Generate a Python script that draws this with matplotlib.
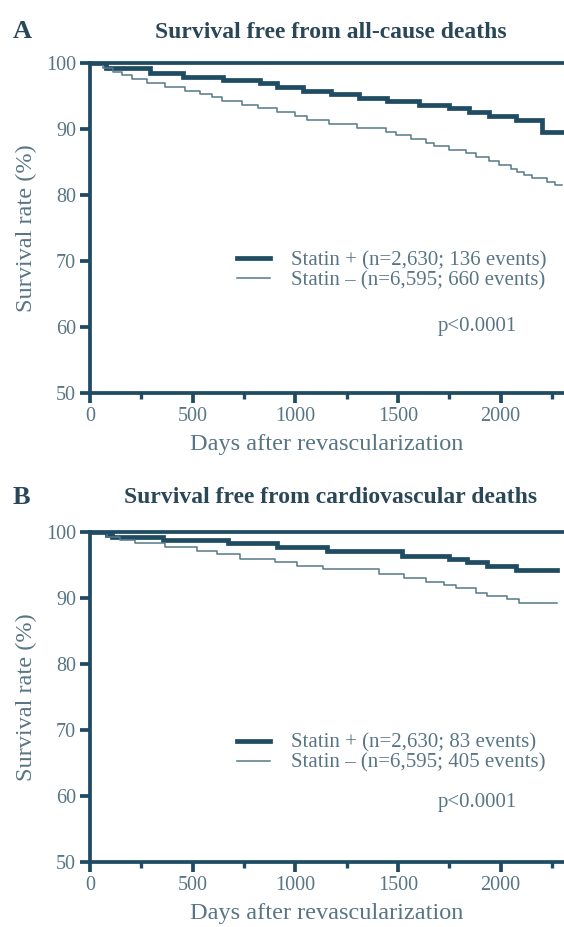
import matplotlib
matplotlib.use("Agg")
import matplotlib.pyplot as plt
from matplotlib.ticker import MultipleLocator
from matplotlib.lines import Line2D

# Panel A: all-cause deaths (Kaplan-Meier steps)
days_a_pos = [0, 80, 292, 453, 648, 828, 911, 1037, 1174, 1310, 1447, 1603, 1749, 1846, 1944, 2075, 2202, 2300]
surv_a_pos = [100, 99.2, 98.5, 97.9, 97.4, 96.9, 96.3, 95.8, 95.3, 94.7, 94.2, 93.6, 93.1, 92.5, 91.9, 91.3, 89.6, 89.6]
days_a_neg = [0, 63, 112, 156, 205, 278, 365, 463, 536, 594, 643, 740, 818, 911, 999, 1057, 1164, 1300, 1442, 1490,
              1564, 1637, 1676, 1749, 1831, 1880, 1944, 1992, 2051, 2080, 2114, 2153, 2226, 2265, 2300]
surv_a_neg = [100, 99.2, 98.7, 98.1, 97.6, 96.9, 96.3, 95.8, 95.3, 94.8, 94.2, 93.6, 93.1, 92.5, 91.9, 91.3, 90.8, 90.2,
              89.6, 89.1, 88.5, 87.9, 87.4, 86.8, 86.3, 85.7, 85.2, 84.6, 84.0, 83.5, 83.0, 82.5, 82.0, 81.5, 81.5]

# Panel B: cardiovascular deaths
days_b_pos = [0, 81, 106, 356, 672, 911, 1154, 1520, 1749, 1836, 1934, 2075, 2275]
surv_b_pos = [100, 99.6, 99.2, 98.8, 98.3, 97.7, 97.1, 96.4, 95.9, 95.4, 94.9, 94.3, 94.3]
days_b_neg = [0, 85, 146, 219, 365, 521, 619, 731, 901, 1008, 1135, 1408, 1529, 1637, 1724, 1783, 1880, 1934, 2031, 2090, 2275]
surv_b_neg = [100, 99.3, 98.8, 98.3, 97.7, 97.1, 96.6, 95.9, 95.4, 94.8, 94.4, 93.6, 93.1, 92.5, 92.0, 91.5, 90.8, 90.3,
              89.8, 89.2, 89.2]

titles = ["Survival free from all-cause deaths", "Survival free from cardiovascular deaths"]
panel_letters = ["A", "B"]
legend_a = ["Statin + (n=2,630; 136 events)", "Statin \u2013 (n=6,595; 660 events)"]
legend_b = ["Statin + (n=2,630; 83 events)", "Statin \u2013 (n=6,595; 405 events)"]
p_text = "p<0.0001"

SERIF = ["Liberation Serif", "DejaVu Serif"]
DARK = "#1f4b63"
LIGHT = "#56798a"
TITLE_C = "#2a4758"
TEXT_C = "#587585"


def draw_panel(ax, d_pos, s_pos, d_neg, s_neg, labels, leg_y, p_y):
    """
    ax: axes to draw in
    d_pos, s_pos: statin + curve
    d_neg, s_neg: statin - curve
    labels: legend texts
    """
    ax.plot(d_pos, s_pos, drawstyle="steps-post", color=DARK, lw=3.4, solid_joinstyle="miter")
    ax.plot(d_neg, s_neg, drawstyle="steps-post", color=LIGHT, lw=1.1)

    ax.set_xlim(0, 2309)
    ax.set_ylim(50, 100)
    ax.xaxis.set_major_locator(MultipleLocator(500))
    ax.xaxis.set_minor_locator(MultipleLocator(250))
    ax.yaxis.set_major_locator(MultipleLocator(10))

    for s in ["left", "bottom", "top"]:
        ax.spines[s].set_color(DARK)
        ax.spines[s].set_linewidth(2.7)
    ax.spines["right"].set_visible(False)

    ax.tick_params(axis="both", which="major", direction="out", color=DARK, width=2.7,
                   length=7, labelcolor=TEXT_C, labelsize=14.5, pad=3)
    ax.tick_params(axis="x", which="minor", direction="out", color=DARK, width=2.4, length=4)
    ax.tick_params(top=False, right=False)
    for lab in ax.get_xticklabels() + ax.get_yticklabels():
        lab.set_family(SERIF)

    ax.set_xlabel("Days after revascularization", family=SERIF, fontsize=17.5, color=TEXT_C)
    ax.set_ylabel("Survival rate (%)", family=SERIF, fontsize=17.5, color=TEXT_C)
    ax.xaxis.set_label_coords(0.5, -0.125)
    ax.yaxis.set_label_coords(-0.112, 0.5)

    handles = [Line2D([], [], color=DARK, lw=3.4), Line2D([], [], color=LIGHT, lw=1.1)]
    leg = ax.legend(handles, labels, loc="center left", bbox_to_anchor=(0.31, leg_y),
                    frameon=False, handlelength=1.6, handletextpad=1.0, labelspacing=0.02,
                    borderpad=0, borderaxespad=0, prop={"family": SERIF, "size": 15})
    for t in leg.get_texts():
        t.set_color(TEXT_C)

    ax.text(0.734, p_y, p_text, transform=ax.transAxes, family=SERIF, fontsize=15,
            color=TEXT_C, ha="left", va="center")


fig = plt.figure(figsize=(5.64, 9.27), dpi=100)
axA = fig.add_axes([0.1596, 0.5761, 0.8404, 0.356])
axB = fig.add_axes([0.1596, 0.0701, 0.8404, 0.356])

draw_panel(axA, days_a_pos, surv_a_pos, days_a_neg, surv_a_neg, legend_a, 0.37, 0.20)
draw_panel(axB, days_b_pos, surv_b_pos, days_b_neg, surv_b_neg, legend_b, 0.33, 0.18)

# panel letters and titles
for ypix, letter, title in zip([32, 498], panel_letters, titles):
    fig.text(13 / 564, 1 - ypix / 927, letter, family=SERIF, fontsize=19, fontweight="bold",
             color=TITLE_C, ha="left", va="center")
    fig.text(331 / 564, 1 - ypix / 927, title, family=SERIF, fontsize=17, fontweight="bold",
             color=TITLE_C, ha="center", va="center")

fig.savefig("out.png", dpi=100)
